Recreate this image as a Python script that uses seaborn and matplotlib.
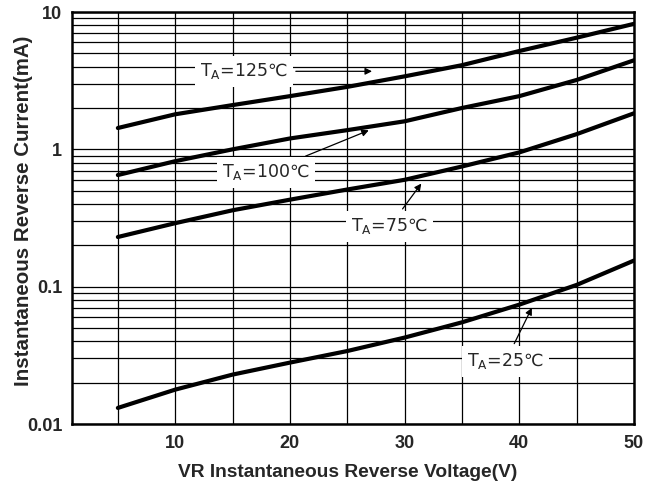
import numpy as np
import pandas as pd
import matplotlib
matplotlib.use("Agg")
import matplotlib.pyplot as plt
from matplotlib.ticker import FixedLocator, LogLocator, NullFormatter
import seaborn as sns

voltage = [5, 10, 15, 20, 25, 30, 35, 40, 45, 50]
i_125 = [1.43, 1.8, 2.1, 2.44, 2.85, 3.4, 4.1, 5.2, 6.5, 8.2]
i_100 = [0.65, 0.82, 1.0, 1.2, 1.38, 1.6, 2.0, 2.44, 3.2, 4.45]
i_75 = [0.23, 0.29, 0.36, 0.43, 0.51, 0.60, 0.75, 0.95, 1.29, 1.83]
i_25 = [0.0131, 0.0178, 0.0229, 0.028, 0.034, 0.0426, 0.055, 0.074, 0.103, 0.155]
temps = ["125", "100", "75", "25"]

df = pd.DataFrame({
    "VR": voltage * 4,
    "IR": i_125 + i_100 + i_75 + i_25,
    "TA": [t for t in temps for _ in voltage],
})

sns.set_style("white")
plt.rcParams["font.family"] = ["Liberation Sans", "DejaVu Sans"]
plt.rcParams["mathtext.default"] = "regular"

fig = plt.figure(figsize=(6.58, 4.88), dpi=100)
ax = fig.add_axes([0.1094, 0.1311, 0.8541, 0.8443])

sns.lineplot(data=df, x="VR", y="IR", hue="TA", palette=["black"] * 4,
             linewidth=3, legend=False, ax=ax, zorder=3)

ax.set_yscale("log")
ax.set_xlim(1, 50)
ax.set_ylim(0.01, 10)
ax.xaxis.set_major_locator(FixedLocator([10, 20, 30, 40, 50]))
ax.xaxis.set_minor_locator(FixedLocator([5, 15, 25, 35, 45]))
ax.yaxis.set_major_locator(FixedLocator([0.01, 0.1, 1, 10]))
ax.yaxis.set_minor_locator(LogLocator(base=10, subs=np.arange(2, 10)))
ax.yaxis.set_minor_formatter(NullFormatter())
ax.set_yticklabels(["0.01", "0.1", "1", "10"])
ax.grid(True, which="both", color="black", linewidth=0.9)
ax.tick_params(which="both", length=0, labelsize=13)
ax.tick_params(axis="x", pad=8)
ax.tick_params(axis="y", pad=7)
for lab in ax.get_xticklabels() + ax.get_yticklabels():
    lab.set_fontweight("bold")
for sp in ax.spines.values():
    sp.set_color("black")
    sp.set_linewidth(1.8)

ax.set_xlabel("VR Instantaneous Reverse Voltage(V)", fontsize=13.8,
              fontweight="bold")
ax.set_ylabel("Instantaneous Reverse Current(mA)", fontsize=14.8,
              fontweight="bold")
ax.xaxis.set_label_coords(0.49, -0.098)
ax.yaxis.set_label_coords(-0.069, 0.517)

box = dict(boxstyle="square,pad=0.3", fc="white", ec="none")
arrow = dict(arrowstyle="-|>", color="black", lw=0.9, mutation_scale=10)
notes = [
    ("T$_A$=125℃", (27.4, 3.7), (16.0, 3.7)),
    ("T$_A$=100℃", (27.1, 1.40), (17.9, 0.68)),
    ("T$_A$=75℃", (31.6, 0.585), (28.7, 0.275)),
    ("T$_A$=25℃", (41.2, 0.0731), (38.8, 0.0286)),
]
for txt, xy, xytext in notes:
    ax.annotate(txt, xy=xy, xytext=xytext, fontsize=12.5, ha="center",
                va="center", family=["DejaVu Sans"], bbox=box,
                arrowprops=arrow, zorder=4)

fig.savefig("out.png", dpi=100)
